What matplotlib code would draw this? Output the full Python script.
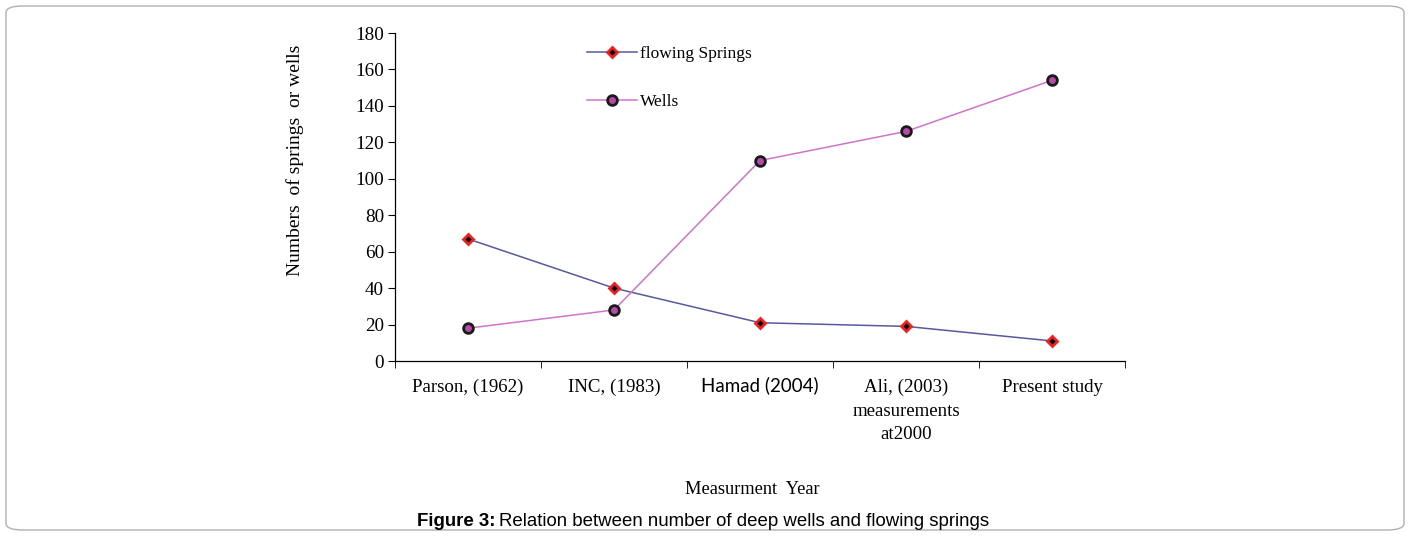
import matplotlib
matplotlib.use("Agg")
import matplotlib.pyplot as plt
from matplotlib.patches import FancyBboxPatch
from matplotlib.transforms import ScaledTranslation

categories = ["Parson, (1962)", "INC, (1983)", "Hamad (2004)",
              "Ali, (2003)\nmeasurements\nat2000", "Present study"]
springs = [67, 40, 21, 19, 11]
wells = [18, 28, 110, 126, 154]
yticks = [0, 20, 40, 60, 80, 100, 120, 140, 160, 180]

W, H = 1413, 536
fig = plt.figure(figsize=(W / 100, H / 100), dpi=100)
serif = ["Liberation Serif", "DejaVu Serif"]

# rounded frame
frame = FancyBboxPatch((6 / W, 6 / H), 1398 / W, 524 / H,
                       boxstyle="round,pad=0,rounding_size=0.012",
                       transform=fig.transFigure, fill=False,
                       edgecolor="#b0b0b0", linewidth=1.0)
fig.patches.append(frame)

ax = fig.add_axes([395 / W, 1 - 361 / H, 730 / W, 328 / H])
x = list(range(1, len(categories) + 1))

ax.plot(x, springs, color="#565a9c", lw=1.1, marker="D", ms=5.5,
        mfc="black", mec="#ee2020", mew=2.0, label="flowing Springs", zorder=3)
ax.plot(x, wells, color="#cf74c8", lw=1.1, marker="o", ms=7,
        mfc="#b54aa8", mec="#1a1a1a", mew=2.0, label="Wells", zorder=3)

ax.set_xlim(0.5, len(categories) + 0.5)
ax.set_ylim(0, 180)
ax.set_yticks(yticks)
ax.set_yticklabels([str(v) for v in yticks], fontfamily=serif, fontsize=13.8)
ax.set_xticks(x)
ax.set_xticks([i + 0.5 for i in range(len(categories) + 1)], minor=True)
ax.tick_params(axis="x", which="major", length=0, pad=13)
ax.tick_params(axis="x", which="minor", length=5, direction="out")
ax.tick_params(axis="y", length=5, direction="out", pad=3)
ax.set_xticklabels(categories, fontsize=13.6, linespacing=1.5, va="top")
for i, lab in enumerate(ax.get_xticklabels()):
    if categories[i].startswith("Hamad"):
        lab.set_fontfamily(["Lato", "DejaVu Sans"])
        lab.set_fontsize(13.5)
        lab.set_transform(lab.get_transform() + ScaledTranslation(0, 3 / 100, fig.dpi_scale_trans))
    else:
        lab.set_fontfamily(serif)
for s in ["top", "right"]:
    ax.spines[s].set_visible(False)
for s in ["left", "bottom"]:
    ax.spines[s].set_linewidth(0.9)

leg = ax.legend(loc="upper left", bbox_to_anchor=((587 - 395) / 730, (361 - 46) / 328),
                frameon=False, borderpad=0, borderaxespad=0, handlelength=2.9,
                handletextpad=0.15, labelspacing=1.85,
                prop={"family": serif, "size": 12.5})

fig.text(295 / W, 1 - 160 / H, "Numbers  of springs  or wells", rotation=90,
         ha="center", va="center", fontfamily=serif, fontsize=14)
fig.text(752 / W, 1 - 490 / H, "Measurment  Year", ha="center", va="center",
         fontfamily=serif, fontsize=13.2)

cap_y = 1 - 521 / H
t1 = fig.text(417 / W, cap_y, "Figure 3:", ha="left", va="center",
              fontsize=13.4, fontfamily=["Liberation Sans"], fontweight="bold")
fig.canvas.draw()
bb = t1.get_window_extent(renderer=fig.canvas.get_renderer())
fig.text((bb.x1 + 4) / W, cap_y,
         "Relation between number of deep wells and flowing springs",
         ha="left", va="center", fontsize=13.4, fontfamily=["Liberation Sans"])

fig.savefig("out.png", dpi=100)
